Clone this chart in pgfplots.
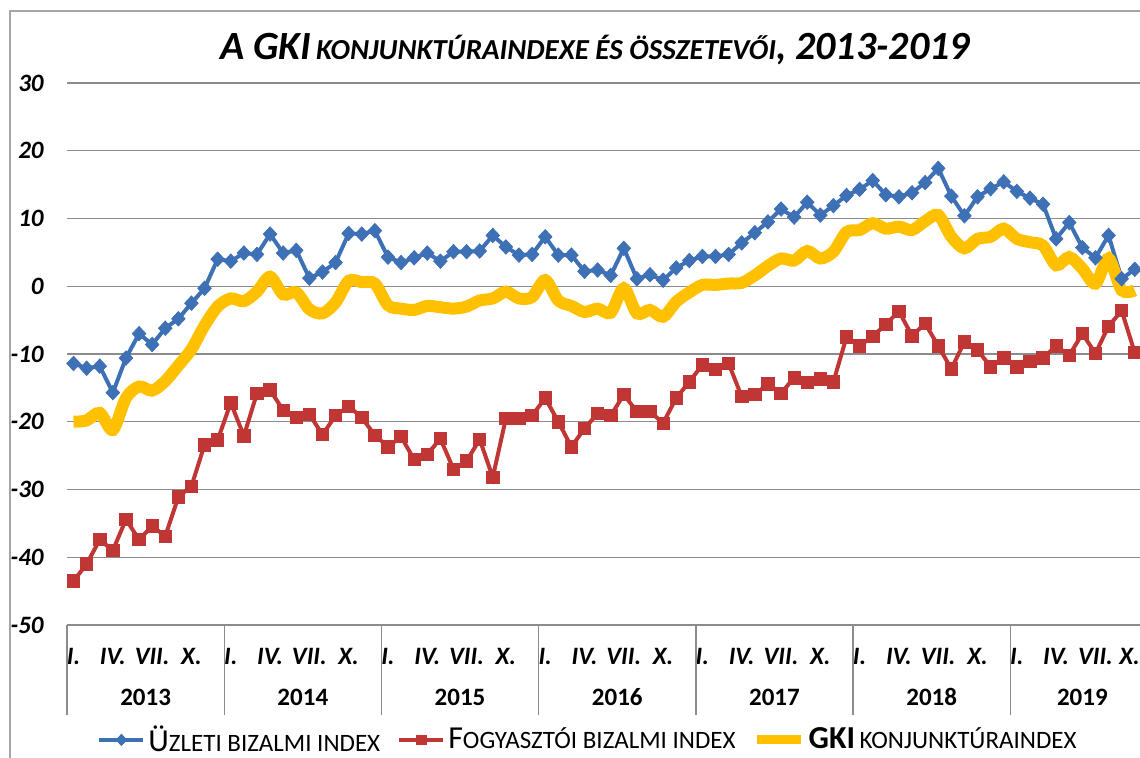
\documentclass[border=0pt]{standalone}
\usepackage{fontspec}
\setmainfont{Carlito}
\usepackage{pgfplots}
\usepackage{pgfplotstable}
\pgfplotsset{compat=1.18}
\definecolor{cblue}{RGB}{62,112,182}
\definecolor{cred}{RGB}{192,54,52}
\definecolor{cyel}{RGB}{255,192,0}
\definecolor{cgrid}{RGB}{140,140,140}

\pgfplotsset{
  markleg/.style={legend image code/.code={\draw[mark repeat=2,mark phase=2,##1, mark size=#1] plot coordinates {(0pt,0pt) (11pt,0pt) (22pt,0pt)};}},
  yelleg/.style={legend image code/.code={\draw[##1, line width=4.5pt] (0pt,0pt) -- (22pt,0pt);}},
}

\pgfplotstableread{
i b r g
0 -11.4 -43.5 -20.0
1 -12.1 -41.0 -19.8
2 -11.8 -37.4 -18.7
3 -15.7 -39.0 -21.2
4 -10.6 -34.4 -16.5
5 -7.0 -37.4 -14.8
6 -8.6 -35.4 -15.4
7 -6.2 -36.9 -14.0
8 -4.8 -31.1 -11.7
9 -2.5 -29.5 -9.3
10 -0.3 -23.4 -5.8
11 4.0 -22.7 -3.0
12 3.7 -17.2 -1.8
13 4.9 -22.1 -2.2
14 4.7 -15.8 -0.8
15 7.7 -15.3 1.4
16 4.9 -18.3 -1.2
17 5.3 -19.4 -0.9
18 1.2 -18.9 -3.4
19 2.1 -21.9 -4.0
20 3.5 -19.1 -2.4
21 7.8 -17.7 0.8
22 7.7 -19.4 0.6
23 8.2 -22.0 0.4
24 4.3 -23.7 -2.8
25 3.5 -22.2 -3.3
26 4.2 -25.6 -3.5
27 4.9 -24.8 -2.9
28 3.7 -22.5 -3.1
29 5.1 -27.0 -3.3
30 5.1 -25.8 -3.0
31 5.2 -22.6 -2.1
32 7.5 -28.2 -1.8
33 5.8 -19.5 -0.8
34 4.6 -19.5 -1.8
35 4.7 -19.1 -1.6
36 7.3 -16.5 0.9
37 4.6 -20.0 -2.1
38 4.6 -23.7 -2.9
39 2.2 -21.0 -3.8
40 2.4 -18.8 -3.3
41 1.6 -19.1 -3.9
42 5.6 -16.0 -0.3
43 1.1 -18.5 -4.0
44 1.7 -18.5 -3.5
45 0.9 -20.2 -4.5
46 2.7 -16.5 -2.3
47 3.8 -14.1 -0.9
48 4.4 -11.6 0.2
49 4.4 -12.3 0.2
50 4.7 -11.4 0.4
51 6.4 -16.3 0.5
52 7.9 -16.0 1.6
53 9.5 -14.4 3.0
54 11.4 -15.8 4.1
55 10.2 -13.5 3.8
56 12.4 -14.2 5.2
57 10.5 -13.7 4.1
58 11.9 -14.1 5.1
59 13.4 -7.5 8.0
60 14.3 -8.8 8.3
61 15.6 -7.4 9.3
62 13.5 -5.6 8.5
63 13.2 -3.7 8.8
64 13.8 -7.3 8.3
65 15.3 -5.5 9.6
66 17.4 -8.8 10.5
67 13.3 -12.2 7.3
68 10.4 -8.2 5.6
69 13.2 -9.4 7.0
70 14.4 -11.9 7.3
71 15.4 -10.6 8.5
72 14.0 -11.9 7.0
73 13.0 -11.1 6.5
74 12.1 -10.6 6.0
75 7.0 -8.8 3.1
76 9.4 -10.2 4.3
77 5.7 -7.0 2.6
78 4.2 -9.9 0.4
79 7.5 -5.9 4.1
80 1.1 -3.6 -0.6
81 2.5 -9.8 -0.6
}\data

\newcommand\BC[1]{{\fontsize{16}{18}\selectfont #1}}
\newcommand\SC[1]{{\fontsize{12.5}{14}\selectfont #1}}

\begin{document}
\begin{tikzpicture}
\useasboundingbox (0,0) rectangle (570pt,-379pt);
\draw[gray!70, line width=0.8pt] (5pt,-5.5pt) rectangle (640pt,-440pt);
\node[anchor=base, font=\bfseries\itshape, inner sep=0pt] at (297.5pt,-30pt)
  {{\fontsize{20}{24}\selectfont A GKI} {\fontsize{14.5}{17}\selectfont KONJUNKTÚRAINDEXE ÉS ÖSSZETEVŐI}{\fontsize{20}{24}\selectfont , 2013-2019}};
\begin{axis}[
  at={(33.5pt,-312.5pt)}, anchor=south west,
  scale only axis, width=536.5pt, height=271pt,
  xmin=-0.5, xmax=81.4, ymin=-50, ymax=30,
  clip=false,
  axis lines*=left,
  y axis line style={draw=none},
  x axis line style={cgrid, line width=0.7pt},
  ymajorgrids,
  major grid style={cgrid, line width=0.7pt},
  major tick length=0pt,
  ytick={-50,-40,-30,-20,-10,0,10,20,30},
  yticklabels={-50,-40,-30,-20,-10,0,10,20,30},
  ytick style={draw=none},
  yticklabel style={font=\fontsize{12.5}{14}\selectfont\bfseries\itshape, anchor=east, inner sep=0pt, xshift=-11.5pt},
  xtick={0,3,6,9,12,15,18,21,24,27,30,33,36,39,42,45,48,51,54,57,60,63,66,69,72,75,78,80.6},
  xticklabels={I.,IV.,VII.,X.,I.,IV.,VII.,X.,I.,IV.,VII.,X.,I.,IV.,VII.,X.,I.,IV.,VII.,X.,I.,IV.,VII.,X.,I.,IV.,VII.,X.},
  xtick style={draw=none},
  xticklabel style={font=\fontsize{12.5}{15}\selectfont\bfseries\itshape, anchor=center, inner sep=0pt, yshift=-15.5pt},
  legend columns=3,
  legend style={at={(0.486,-0.212)}, anchor=center, draw=none, fill=none,
     nodes={inner xsep=1.5pt, inner ysep=1pt},
     /tikz/every even column/.append style={column sep=7pt}},
  legend cell align=left,
]
\addplot[cblue, line width=2pt, mark=diamond*, mark size=3.6pt,
   mark options={solid, fill=cblue, line width=0.4pt, xscale=1.25},
   markleg=2.8pt]
   table[x=i,y=b]{\data};
\addlegendentry{\BC{Ü}\SC{ZLETI BIZALMI INDEX}}
\addplot[cred, line width=2pt, mark=square*, mark size=3.1pt,
   mark options={solid, fill=cred, line width=0.4pt},
   markleg=2.4pt]
   table[x=i,y=r]{\data};
\addlegendentry{\BC{F}\SC{OGYASZTÓI BIZALMI INDEX}}
\addplot[cyel, line width=6pt, smooth, tension=0.5, yelleg]
   table[x=i,y=g]{\data};
\addlegendentry{\BC{\bfseries GKI} \SC{KONJUNKTÚRAINDEX}}
\draw[cgrid, line width=0.7pt] (axis cs:-0.5,-50) -- ++(0pt,-45pt);
\draw[cgrid, line width=0.7pt] (axis cs:11.5,-50) -- ++(0pt,-45pt);
\draw[cgrid, line width=0.7pt] (axis cs:23.5,-50) -- ++(0pt,-45pt);
\draw[cgrid, line width=0.7pt] (axis cs:35.5,-50) -- ++(0pt,-45pt);
\draw[cgrid, line width=0.7pt] (axis cs:47.5,-50) -- ++(0pt,-45pt);
\draw[cgrid, line width=0.7pt] (axis cs:59.5,-50) -- ++(0pt,-45pt);
\draw[cgrid, line width=0.7pt] (axis cs:71.5,-50) -- ++(0pt,-45pt);
\node[font=\fontsize{12.5}{14}\selectfont\bfseries, yshift=-36pt] at (axis cs:5.5,-50) {2013};
\node[font=\fontsize{12.5}{14}\selectfont\bfseries, yshift=-36pt] at (axis cs:17.5,-50) {2014};
\node[font=\fontsize{12.5}{14}\selectfont\bfseries, yshift=-36pt] at (axis cs:29.5,-50) {2015};
\node[font=\fontsize{12.5}{14}\selectfont\bfseries, yshift=-36pt] at (axis cs:41.5,-50) {2016};
\node[font=\fontsize{12.5}{14}\selectfont\bfseries, yshift=-36pt] at (axis cs:53.5,-50) {2017};
\node[font=\fontsize{12.5}{14}\selectfont\bfseries, yshift=-36pt] at (axis cs:65.5,-50) {2018};
\node[font=\fontsize{12.5}{14}\selectfont\bfseries, yshift=-36pt] at (axis cs:77,-50) {2019};
\end{axis}
\end{tikzpicture}
\end{document}
